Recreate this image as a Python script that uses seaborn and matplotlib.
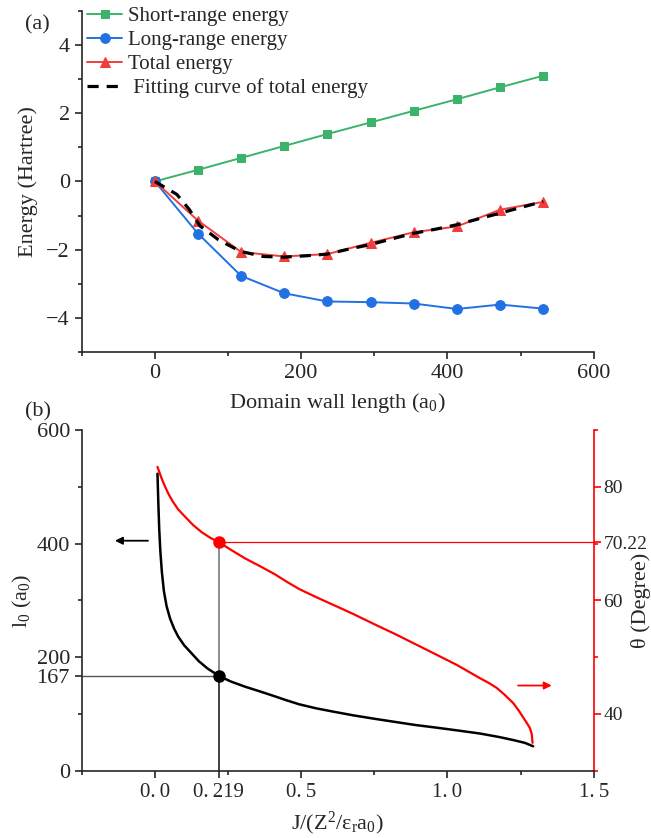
import numpy as np
import pandas as pd
import matplotlib.pyplot as plt
import seaborn as sns

# (a) energy vs domain wall length
wall_len = [0, 59, 118, 177, 236, 295, 354, 413, 472, 531]
short_e = [0, 0.34, 0.69, 1.04, 1.39, 1.73, 2.07, 2.41, 2.76, 3.10]
long_e = [0, -1.53, -2.77, -3.28, -3.52, -3.54, -3.58, -3.74, -3.61, -3.73]
total_e = [0, -1.15, -2.07, -2.20, -2.13, -1.80, -1.49, -1.32, -0.83, -0.60]

fit_len = [0, 30, 47, 62, 87, 117, 148, 177, 207, 236, 266, 295, 325, 354,
           384, 413, 442, 472, 501, 531]
fit_e = [0, -0.38, -0.82, -1.31, -1.71, -2.05, -2.20, -2.22, -2.18, -2.13,
         -1.98, -1.85, -1.68, -1.52, -1.40, -1.27, -1.10, -0.93, -0.76, -0.59]

# (b) l0 and theta vs J
j_black = [0.009, 0.012, 0.015, 0.019, 0.024, 0.031, 0.040, 0.052, 0.066,
           0.080, 0.10, 0.125, 0.15, 0.18, 0.219, 0.26, 0.308, 0.36, 0.41,
           0.45, 0.493, 0.55, 0.61, 0.678, 0.75, 0.82, 0.89, 0.96, 1.033,
           1.111, 1.175, 1.225, 1.265, 1.293]
l0_vals = [523, 470, 425, 385, 350, 316, 290, 268, 250, 236, 221, 207, 193,
           180, 167, 157, 148, 139.5, 131, 124, 117, 110, 104, 97.5, 91.5, 86,
           80.5, 76, 71, 65.5, 59.5, 54, 49, 43]

j_red = [0.009, 0.02, 0.03, 0.045, 0.06, 0.08, 0.10, 0.13, 0.16, 0.19, 0.219,
         0.26, 0.308, 0.36, 0.41, 0.45, 0.493, 0.55, 0.61, 0.678, 0.75, 0.82,
         0.89, 0.96, 1.033, 1.111, 1.14, 1.168, 1.195, 1.225, 1.245, 1.265,
         1.275, 1.282, 1.288, 1.291]
theta_vals = [83.5, 81.9, 80.6, 78.9, 77.5, 76.0, 74.9, 73.3, 72.0, 71.0,
              70.22, 68.9, 67.4, 66.0, 64.6, 63.3, 62.0, 60.6, 59.2, 57.6,
              55.8, 54.1, 52.3, 50.5, 48.6, 46.3, 45.5, 44.6, 43.4, 41.9,
              40.5, 38.9, 38.1, 37.5, 36.5, 34.9]

j_mark = 0.219
l0_mark = 167
theta_mark = 70.22

green = '#3cb36b'
blue = '#2271e3'
red = '#f23d3d'

sns.set_style('ticks')
plt.rcParams['font.family'] = ['Liberation Serif', 'DejaVu Serif']
plt.rcParams['mathtext.fontset'] = 'custom'
plt.rcParams['mathtext.rm'] = 'Liberation Serif'
plt.rcParams['mathtext.it'] = 'Liberation Serif:italic'
plt.rcParams['xtick.direction'] = 'out'
plt.rcParams['ytick.direction'] = 'out'

fig = plt.figure(figsize=(6.51, 8.38), dpi=100)
ax1 = fig.add_axes([0.1255, 0.58, 0.7865, 0.407])
ax2 = fig.add_axes([0.1255, 0.0803, 0.7865, 0.4066])

# ---- panel (a)
sns.lineplot(x=wall_len, y=short_e, ax=ax1, color=green, marker='s', markersize=6,
             markeredgecolor=green, lw=1.4, label='Short-range energy')
sns.lineplot(x=wall_len, y=long_e, ax=ax1, color=blue, marker='o', markersize=7,
             markeredgecolor=blue, lw=1.4, label='Long-range energy')
sns.lineplot(x=wall_len, y=total_e, ax=ax1, color=red, marker='^', markersize=7,
             markeredgecolor=red, lw=1.4, label='Total energy')
sns.lineplot(x=fit_len, y=fit_e, ax=ax1, color='black', lw=2.3,
             linestyle=(0, (3.5, 2.5)), label=' Fitting curve of total energy')

ax1.set_xlim(-100, 600)
ax1.set_ylim(-5, 5)
ax1.set_xticks([0, 200, 400, 600])
ax1.set_xticks([-100, 100, 300, 500], minor=True)
ax1.set_yticks([-4, -2, 0, 2, 4])
ax1.set_yticks([-5, -3, -1, 1, 3, 5], minor=True)
ax1.set_yticklabels(['\u22124', '\u22122', '0', '2', '4'])
ax1.tick_params(labelsize=16, length=5, width=1.2)
ax1.tick_params(which='minor', length=3, width=1.2)
ax1.set_xlabel('Domain wall length (a$_\\mathregular{0}$)', fontsize=16, labelpad=6)
ax1.set_ylabel('Energy (Hartree)', fontsize=16, labelpad=6)
sns.despine(ax=ax1)
for s in ax1.spines.values():
    s.set_linewidth(1.2)
ax1.legend(loc='upper left', bbox_to_anchor=(0.01, 1.012), frameon=False,
           fontsize=15, handlelength=1.7, handletextpad=0.3, labelspacing=0.2,
           borderpad=0, borderaxespad=0)

# ---- panel (b)
ax3 = ax2.twinx()
ax2.set_zorder(ax3.get_zorder() + 1)
ax2.patch.set_visible(False)

ax2.set_xlim(-0.25, 1.5)
ax2.set_ylim(0, 600)
ax3.set_ylim(30, 90)

lo_theta = 30 + (l0_mark - 0) / 600 * 60

sns.lineplot(x=j_red, y=theta_vals, ax=ax3, color='red', lw=1.6, sort=False)
ax3.hlines(theta_mark, j_mark, 1.5, color='red', lw=0.9)
ax3.vlines(j_mark, lo_theta, theta_mark, color='#7a7a7a', lw=1.2)
ax3.plot([j_mark], [theta_mark], 'o', color='red', ms=8)
ax3.annotate('', xy=(1.366, 45), xytext=(1.232, 45),
             arrowprops=dict(arrowstyle='-|>', color='red', lw=1.3, mutation_scale=11))

sns.lineplot(x=j_black, y=l0_vals, ax=ax2, color='black', lw=1.8, sort=False)
ax2.hlines(l0_mark, -0.25, j_mark, color='#555555', lw=1.0)
ax2.vlines(j_mark, 0, l0_mark, color='#333333', lw=1.3)
ax2.plot([j_mark], [l0_mark], 'o', color='black', ms=8)
ax2.annotate('', xy=(-0.146, 405), xytext=(-0.014, 405),
             arrowprops=dict(arrowstyle='-|>', color='black', lw=1.3, mutation_scale=11))

ax2.set_xticks([0, 0.219, 0.5, 1.0, 1.5])
ax2.set_xticklabels(['0.\u20090', '0.\u2009219', '0.\u20095', '1.\u20090', '1.\u20095'])
ax2.set_xticks([-0.25, 0.25, 0.75, 1.25], minor=True)
ax2.set_yticks([0, 167, 200, 400, 600])
ax2.set_yticks([100, 300, 500], minor=True)
ax2.tick_params(labelsize=16, length=5, width=1.2)
ax2.tick_params(axis='x', labelsize=15)
ax2.tick_params(which='minor', length=3, width=1.2)
ax2.set_xlabel('J/(Z$^\\mathregular{2}$/\u03b5$_\\mathregular{r}$a$_\\mathregular{0}$)',
               fontsize=16, labelpad=6)
ax2.set_ylabel('l$_\\mathregular{0}$ (a$_\\mathregular{0}$)', fontsize=16, labelpad=2)

ax3.set_yticks([40, 60, 70.22, 80])
ax3.set_yticklabels(['40', '60', '70.22', '80'])
ax3.set_yticks([30, 50, 70, 90], minor=True)
ax3.tick_params(labelsize=14, length=5, width=1.2, color='red', pad=2)
ax3.tick_params(which='minor', length=3, width=1.2, color='red')
ax3.set_ylabel('\u03b8 (Degree)', fontsize=16, rotation=90)
ax3.yaxis.set_label_coords(1.072, 0.5)

for s in ['top']:
    ax2.spines[s].set_visible(False)
    ax3.spines[s].set_visible(False)
ax2.spines['right'].set_visible(False)
ax3.spines['left'].set_visible(False)
ax3.spines['bottom'].set_visible(False)
ax3.spines['right'].set_color('red')
for s in ax2.spines.values():
    s.set_linewidth(1.2)
ax3.spines['right'].set_linewidth(1.2)

fig.text(25 / 651, 1 - 25 / 838, '(a)', fontsize=16, va='center')
fig.text(25 / 651, 1 - 412 / 838, '(b)', fontsize=16, va='center')

fig.savefig('out.png', dpi=100)
